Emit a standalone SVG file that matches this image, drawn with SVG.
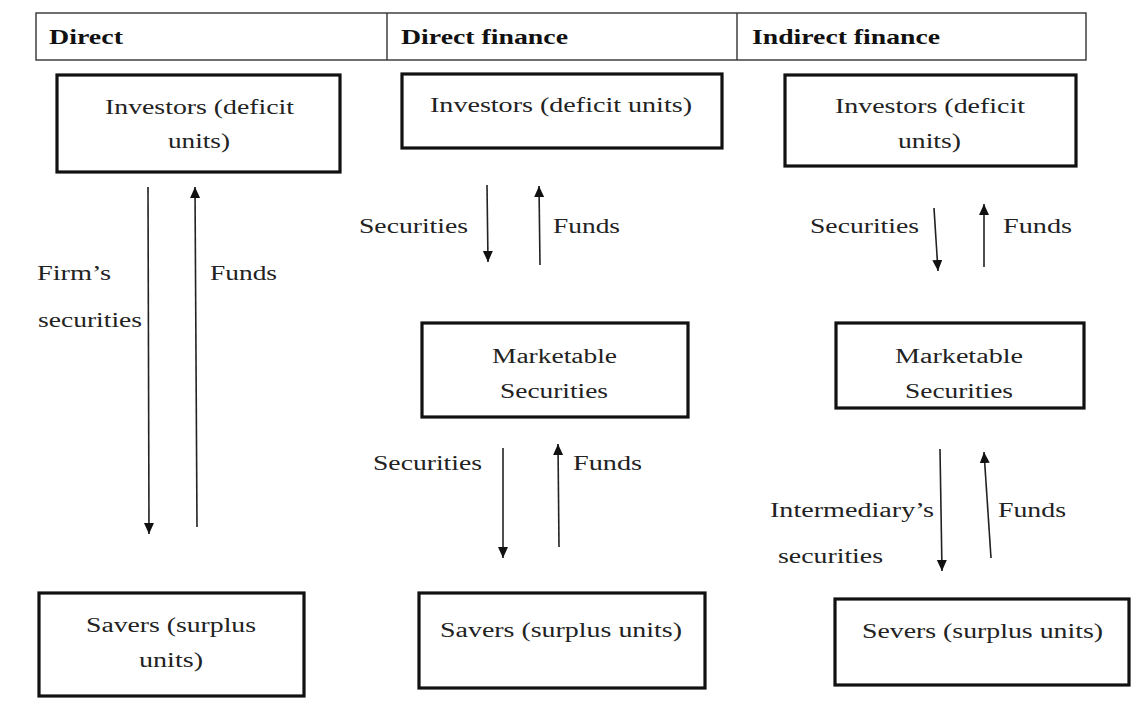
<svg xmlns="http://www.w3.org/2000/svg" width="1144" height="704" viewBox="0 0 1144 704">
<defs>
<style>
.hdr{fill:#fff;stroke:#333;stroke-width:1.4}
.box{fill:#fff;stroke:#111;stroke-width:3.2}
.t{font-family:"Liberation Serif","Times New Roman",serif;font-size:20px;fill:#222}
.h{font-family:"Liberation Serif","Times New Roman",serif;font-size:20px;font-weight:bold;fill:#111}
.c{fill:none;stroke:#222;stroke-width:1.6}
</style>
<marker id="ah" markerUnits="userSpaceOnUse" markerWidth="12" markerHeight="12" viewBox="0 0 12 12" refX="11" refY="6" orient="auto">
<path d="M0,1 L11,6 L0,11 Z" fill="#111"/>
</marker>
</defs>
<rect width="1144" height="704" fill="#fff"/>
<g id="header">
<rect class="hdr" x="36" y="13" width="1050" height="47"/>
<line class="hdr" x1="387" y1="13" x2="387" y2="60"/>
<line class="hdr" x1="737" y1="13" x2="737" y2="60"/>
<text class="h" x="49" y="44" textLength="74" lengthAdjust="spacingAndGlyphs">Direct</text>
<text class="h" x="401" y="44" textLength="167" lengthAdjust="spacingAndGlyphs">Direct finance</text>
<text class="h" x="752" y="44" textLength="188" lengthAdjust="spacingAndGlyphs">Indirect finance</text>
</g>
<g id="investors-direct">
<rect class="box" x="57" y="75" width="283" height="97"/>
<text class="t" x="105" y="114" textLength="189" lengthAdjust="spacingAndGlyphs">Investors (deficit</text>
<text class="t" x="168" y="148" textLength="62" lengthAdjust="spacingAndGlyphs">units)</text>
</g>
<g id="investors-df">
<rect class="box" x="402" y="74" width="320" height="74"/>
<text class="t" x="430" y="112" textLength="262" lengthAdjust="spacingAndGlyphs">Investors (deficit units)</text>
</g>
<g id="investors-if">
<rect class="box" x="785" y="75" width="291" height="91"/>
<text class="t" x="835" y="113" textLength="190" lengthAdjust="spacingAndGlyphs">Investors (deficit</text>
<text class="t" x="898" y="148" textLength="63" lengthAdjust="spacingAndGlyphs">units)</text>
</g>
<g id="marketable-df">
<rect class="box" x="422" y="323" width="266" height="94"/>
<text class="t" x="492" y="363" textLength="125" lengthAdjust="spacingAndGlyphs">Marketable</text>
<text class="t" x="500" y="398" textLength="108" lengthAdjust="spacingAndGlyphs">Securities</text>
</g>
<g id="marketable-if">
<rect class="box" x="836" y="323" width="248" height="85"/>
<text class="t" x="895" y="363" textLength="128" lengthAdjust="spacingAndGlyphs">Marketable</text>
<text class="t" x="905" y="398" textLength="108" lengthAdjust="spacingAndGlyphs">Securities</text>
</g>
<g id="savers-direct">
<rect class="box" x="39" y="593" width="265" height="103"/>
<text class="t" x="86" y="632" textLength="170" lengthAdjust="spacingAndGlyphs">Savers (surplus</text>
<text class="t" x="139" y="667" textLength="64" lengthAdjust="spacingAndGlyphs">units)</text>
</g>
<g id="savers-df">
<rect class="box" x="419" y="593" width="286" height="95"/>
<text class="t" x="440" y="637" textLength="242" lengthAdjust="spacingAndGlyphs">Savers (surplus units)</text>
</g>
<g id="savers-if">
<rect class="box" x="835" y="599" width="294" height="86"/>
<text class="t" x="862" y="638" textLength="241" lengthAdjust="spacingAndGlyphs">Severs (surplus units)</text>
</g>
<g id="connectors">
<line class="c" x1="148" y1="187" x2="149" y2="534" marker-end="url(#ah)"/>
<line class="c" x1="197" y1="527" x2="195" y2="187" marker-end="url(#ah)"/>
<line class="c" x1="487" y1="185" x2="488" y2="262" marker-end="url(#ah)"/>
<line class="c" x1="540" y1="265" x2="539" y2="186" marker-end="url(#ah)"/>
<line class="c" x1="503" y1="448" x2="503" y2="558" marker-end="url(#ah)"/>
<line class="c" x1="559" y1="547" x2="558" y2="444" marker-end="url(#ah)"/>
<line class="c" x1="934" y1="208" x2="938" y2="271" marker-end="url(#ah)"/>
<line class="c" x1="984" y1="267" x2="984" y2="204" marker-end="url(#ah)"/>
<line class="c" x1="940" y1="449" x2="942" y2="571" marker-end="url(#ah)"/>
<line class="c" x1="991" y1="558" x2="984" y2="452" marker-end="url(#ah)"/>
</g>
<g id="labels">
<text class="t" x="37" y="280" textLength="74" lengthAdjust="spacingAndGlyphs">Firm’s</text>
<text class="t" x="38" y="327" textLength="104" lengthAdjust="spacingAndGlyphs">securities</text>
<text class="t" x="210" y="280" textLength="67" lengthAdjust="spacingAndGlyphs">Funds</text>
<text class="t" x="359" y="233" textLength="109" lengthAdjust="spacingAndGlyphs">Securities</text>
<text class="t" x="553" y="233" textLength="67" lengthAdjust="spacingAndGlyphs">Funds</text>
<text class="t" x="373" y="470" textLength="109" lengthAdjust="spacingAndGlyphs">Securities</text>
<text class="t" x="573" y="470" textLength="69" lengthAdjust="spacingAndGlyphs">Funds</text>
<text class="t" x="810" y="233" textLength="109" lengthAdjust="spacingAndGlyphs">Securities</text>
<text class="t" x="1003" y="233" textLength="69" lengthAdjust="spacingAndGlyphs">Funds</text>
<text class="t" x="770" y="517" textLength="164" lengthAdjust="spacingAndGlyphs">Intermediary’s</text>
<text class="t" x="778" y="563" textLength="105" lengthAdjust="spacingAndGlyphs">securities</text>
<text class="t" x="998" y="517" textLength="68" lengthAdjust="spacingAndGlyphs">Funds</text>
</g>
</svg>
